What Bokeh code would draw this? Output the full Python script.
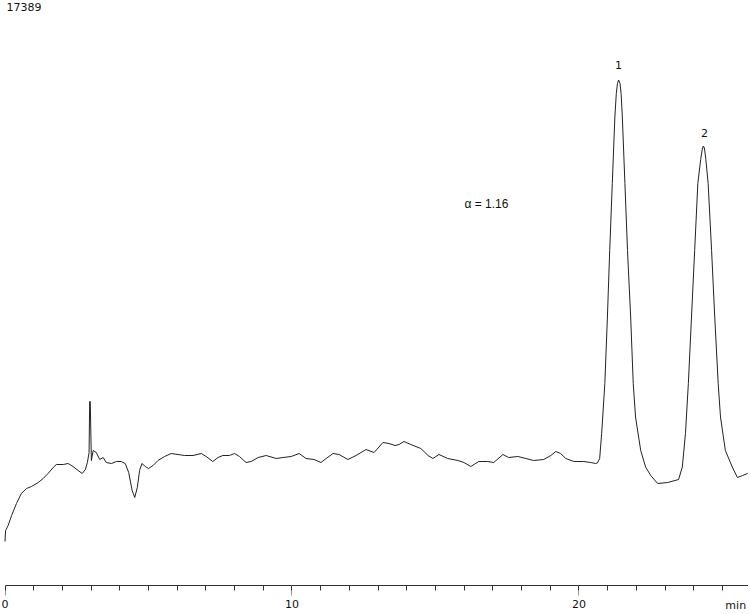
from bokeh.plotting import figure
from bokeh.models import Range1d, FixedTicker, ColumnDataSource, LinearAxis
from bokeh.core.properties import value
from bokeh.embed import file_html
from bokeh.resources import INLINE

# ---- data (retention time in min, detector signal in arbitrary units) ----
time_min = [0.00, 0.02, 0.11, 0.23, 0.40, 0.57, 0.75, 0.92, 1.16, 1.33, 1.50, 1.68, 1.79,
            2.03, 2.20, 2.37, 2.55, 2.69, 2.80, 2.87, 2.93, 2.95, 2.97, 3.01, 3.07, 3.18,
            3.30, 3.42, 3.53, 3.71, 3.88, 4.05, 4.19, 4.31, 4.43, 4.52, 4.61, 4.69, 4.77,
            4.89, 5.00, 5.16, 5.33, 5.56, 5.79, 6.03, 6.26, 6.55, 6.84, 7.01, 7.24, 7.42,
            7.59, 7.82, 8.00, 8.17, 8.40, 8.58, 8.82, 9.10, 9.45, 9.69, 9.97, 10.25, 10.49,
            10.77, 11.01, 11.19, 11.43, 11.64, 11.95, 12.23, 12.58, 12.86, 13.17, 13.38,
            13.59, 13.73, 13.90, 14.14, 14.49, 14.74, 14.91, 15.12, 15.43, 15.78, 15.99,
            16.23, 16.51, 16.82, 17.03, 17.35, 17.55, 17.87, 18.15, 18.42, 18.77, 19.02,
            19.19, 19.36, 19.54, 19.82, 20.16, 20.41, 20.58, 20.64, 20.72, 20.79, 20.90,
            20.99, 21.07, 21.16, 21.25, 21.30, 21.34, 21.38, 21.43, 21.47, 21.51, 21.60,
            21.69, 21.80, 21.89, 21.97, 22.15, 22.32, 22.50, 22.74, 23.09, 23.47, 23.60,
            23.71, 23.81, 23.92, 24.03, 24.14, 24.24, 24.29, 24.33, 24.37, 24.42, 24.50,
            24.62, 24.73, 24.85, 24.93, 25.10, 25.34, 25.52, 25.70, 25.87, 25.98]
signal = [8.8, 11.0, 12.0, 14.0, 16.4, 18.4, 19.4, 19.8, 20.6, 21.4, 22.4, 23.6, 24.2,
          24.2, 24.4, 23.8, 23.0, 22.4, 23.2, 24.6, 26.6, 36.8, 36.8, 25.0, 27.0, 26.6,
          25.2, 25.6, 24.6, 24.4, 24.8, 24.8, 24.4, 22.6, 19.0, 17.6, 19.6, 23.0, 24.4,
          23.8, 23.4, 24.0, 25.0, 25.8, 26.4, 26.2, 26.0, 26.0, 26.4, 25.8, 24.8, 25.6,
          26.0, 26.0, 26.4, 25.8, 24.6, 24.8, 25.6, 26.0, 25.4, 25.6, 25.8, 26.4, 25.4,
          25.2, 24.6, 25.4, 26.4, 26.2, 25.2, 26.0, 27.2, 26.6, 28.6, 28.4,
          28.0, 28.2, 28.8, 28.2, 27.4, 26.0, 25.4, 26.2, 25.4, 25.0, 24.6,
          23.8, 24.8, 24.8, 24.6, 26.2, 25.6, 25.8, 25.4, 25.0, 25.2, 26.0,
          26.8, 26.4, 25.4, 24.8, 24.8, 24.6, 24.4, 24.5, 25.4, 30.4, 40.4,
          53.7, 67.0, 80.4, 93.7, 98.4, 100.4, 101.1, 100.4, 98.2, 93.7, 80.4,
          67.0, 53.7, 40.4, 33.7, 27.0, 23.7, 22.0, 20.4, 20.6, 21.2, 23.7,
          30.4, 40.4, 53.7, 67.0, 80.4, 85.2, 87.1, 87.9, 87.5, 85.2, 80.4,
          67.0, 53.7, 40.4, 33.7, 27.0, 23.7, 21.6, 22.0, 22.4, 22.4]

peak_labels = ["1", "2"]
peak_label_time = [21.38, 24.37]
peak_label_signal = [105.0, 91.3]

alpha_text = ["\u03b1 = 1.16"]
alpha_time = [16.01]
alpha_signal = [77.8]

header_text = ["17389"]
header_time = [0.05]
header_signal = [116.5]

unit_text = ["min"]
unit_time = [25.10]
unit_signal = [-2.6]

major_ticks = [0, 10, 20]
minor_ticks = list(range(0, 27))

# ---- figure ----
p = figure(width=748, height=612, output_backend="svg", toolbar_location=None,
           x_range=Range1d(-0.1568, 25.906), y_range=Range1d(-5.4, 117.0),
           min_border_left=0, min_border_right=0, min_border_top=0, min_border_bottom=0,
           outline_line_color=None, background_fill_color="white",
           border_fill_color="white", x_axis_location=None, y_axis_location=None)

p.xgrid.visible = False
p.ygrid.visible = False

ax = LinearAxis(ticker=FixedTicker(ticks=major_ticks, minor_ticks=minor_ticks),
                fixed_location=0)
ax.bounds = (0, 26)
ax.axis_line_color = "#333333"
ax.axis_line_width = 1
ax.major_tick_in = 0
ax.major_tick_out = 10
ax.major_tick_line_color = "#9a9a9a"
ax.minor_tick_in = 0
ax.minor_tick_out = 5
ax.minor_tick_line_color = "#333333"
ax.major_label_standoff = 4
ax.major_label_text_font = "DejaVu Sans"
ax.major_label_text_font_size = "11px"
ax.major_label_text_color = "#111111"
p.add_layout(ax, "below")

p.line(time_min, signal, line_color="#222222", line_width=1)

src_pk = ColumnDataSource(dict(t=peak_label_time, s=peak_label_signal, txt=peak_labels))
p.text(x="t", y="s", text="txt", source=src_pk, text_font=value("DejaVu Sans"),
       text_font_size="11px", text_align="center", text_baseline="top",
       text_color="#111111")

src_a = ColumnDataSource(dict(t=alpha_time, s=alpha_signal, txt=alpha_text))
p.text(x="t", y="s", text="txt", source=src_a, text_font=value("Liberation Sans"),
       text_font_size="12px", text_align="left", text_baseline="top",
       text_color="#111111")

src_h = ColumnDataSource(dict(t=header_time, s=header_signal, txt=header_text))
p.text(x="t", y="s", text="txt", source=src_h, text_font=value("DejaVu Sans"),
       text_font_size="11px", text_align="left", text_baseline="top",
       text_color="#111111")

src_u = ColumnDataSource(dict(t=unit_time, s=unit_signal, txt=unit_text))
p.text(x="t", y="s", text="txt", source=src_u, text_font=value("DejaVu Sans"),
       text_font_size="11px", text_align="left", text_baseline="top",
       text_color="#111111")

open("out.html", "w").write(file_html(p, INLINE))
